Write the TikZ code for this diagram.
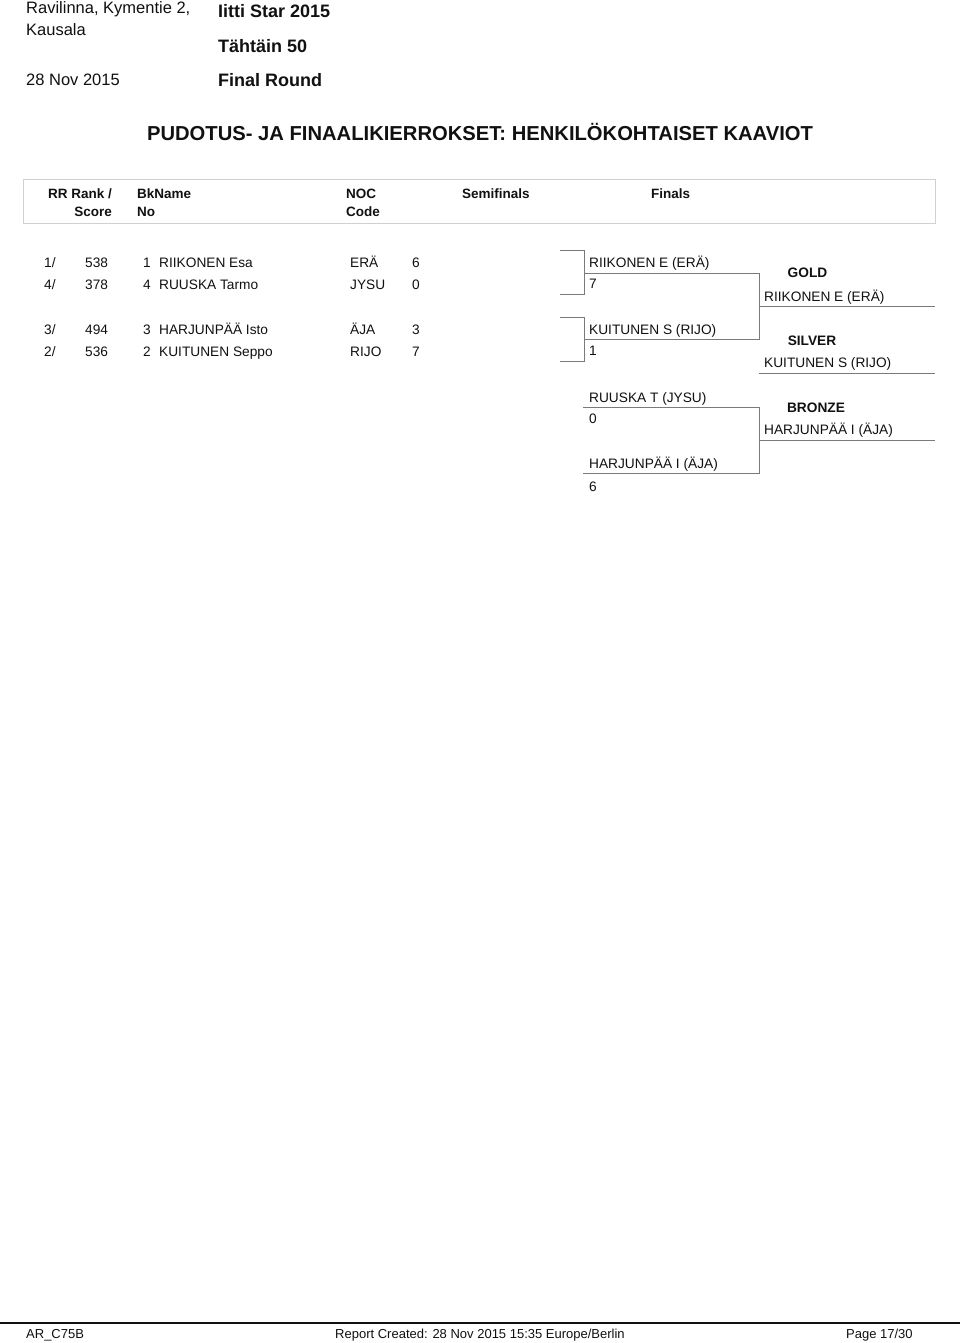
\documentclass[tikz,border=0pt]{standalone}
\usepackage{fontspec}
\setmainfont{Liberation Sans}
\definecolor{brkgray}{HTML}{7A7A7A}
\definecolor{boxgray}{HTML}{D0D0D0}
\definecolor{ink}{HTML}{111111}
\begin{document}
\begin{tikzpicture}[x=1pt,y=-1pt,
  txt/.style={anchor=base west,inner sep=0pt,text=ink,font=\fontsize{13.7}{16}\selectfont},
  txtr/.style={txt,anchor=base east},
  hdr/.style={anchor=base west,inner sep=0pt,text=ink,font=\bfseries\fontsize{13.5}{16}\selectfont},
  hdrr/.style={hdr,anchor=base east},
  medal/.style={anchor=base,inner sep=0pt,text=ink,font=\bfseries\fontsize{13.7}{16}\selectfont},
  topr/.style={anchor=base west,inner sep=0pt,text=ink,font=\fontsize{16.5}{19}\selectfont},
  topb/.style={anchor=base west,inner sep=0pt,text=ink,font=\bfseries\fontsize{18}{21}\selectfont},
  foot/.style={anchor=base west,inner sep=0pt,text=ink,font=\fontsize{13}{15}\selectfont},
  brk/.style={draw=brkgray,line width=0.9pt},
  hbox/.style={draw=boxgray,line width=1pt}]
\useasboundingbox (0,0) rectangle (960,1343);
\fill[white] (0,0) rectangle (960,1343);

% top block
\node[topr] (venue1) at (26,14) {Ravilinna, Kymentie 2,};
\node[topr] (venue2) at (26,35.5) {Kausala};
\node[topr] (date) at (26,86) {28 Nov 2015};
\node[topb] (event) at (218,17.5) {Iitti Star 2015};
\node[topb] (target) at (218,53) {Tähtäin 50};
\node[topb] (round) at (218,87) {Final Round};

% title
\node[anchor=base,inner sep=0pt,text=ink,font=\bfseries\fontsize{20.2}{24}\selectfont] (title) at (480,141) {PUDOTUS- JA FINAALIKIERROKSET: HENKILÖKOHTAISET KAAVIOT};

% header box
\draw[hbox] (23,180) rectangle (935,223);
\node[hdrr] (h1) at (112,198) {RR Rank /};
\node[hdrr] (h1b) at (112,216) {Score};
\node[hdr] (h2) at (137,198) {BkName};
\node[hdr] (h2b) at (137,216) {No};
\node[hdr] (h3) at (346,198) {NOC};
\node[hdr] (h3b) at (346,216) {Code};
\node[hdr] (h4) at (462,198) {Semifinals};
\node[hdr] (h5) at (651,198) {Finals};

% rows
\foreach \y/\rk/\sc/\no/\nm/\noc/\pt/\id in {267/1/538/1/RIIKONEN Esa/ERÄ/6/a,289.5/4/378/4/RUUSKA Tarmo/JYSU/0/b,334/3/494/3/HARJUNPÄÄ Isto/ÄJA/3/c,356.5/2/536/2/KUITUNEN Seppo/RIJO/7/d}{
  \node[txt] (rk\id) at (44,\y) {\rk/};
  \node[txt] (sc\id) at (85,\y) {\sc};
  \node[txt] (no\id) at (143,\y) {\no};
  \node[txt] (nm\id) at (159,\y) {\nm};
  \node[txt] (noc\id) at (350,\y) {\noc};
  \node[txt] (pt\id) at (412,\y) {\pt};
}

% semifinal brackets
\coordinate (s1t) at (560,250); \coordinate (s1tc) at (584,250);
\coordinate (s1b) at (560,294.5); \coordinate (s1bc) at (584,294.5);
\coordinate (s1m) at (584,273); \coordinate (s1e) at (759,273);
\draw[brk] (s1t) -- (s1tc) -- (s1bc) -- (s1b);
\draw[brk] (s1m) -- (s1e);
\coordinate (s2t) at (560,317); \coordinate (s2tc) at (584,317);
\coordinate (s2b) at (560,361.5); \coordinate (s2bc) at (584,361.5);
\coordinate (s2m) at (584,339.5); \coordinate (s2e) at (759,339.5);
\draw[brk] (s2t) -- (s2tc) -- (s2bc) -- (s2b);
\draw[brk] (s2m) -- (s2e);
\draw[brk] (s1e) -- (s2e);

\node[txt] (sf1n) at (589,267) {RIIKONEN E (ERÄ)};
\node[txt] (sf1s) at (589,288.5) {7};
\node[txt] (sf2n) at (589,334.5) {KUITUNEN S (RIJO)};
\node[txt] (sf2s) at (589,355.5) {1};

% gold / silver
\coordinate (gl) at (759,306); \coordinate (gr) at (935,306);
\draw[brk] (gl) -- (gr);
\coordinate (sl) at (759,373); \coordinate (sr) at (935,373);
\draw[brk] (sl) -- (sr);
\node[medal] (gold) at (807.5,277.5) {GOLD};
\node[txt] (goldn) at (764,301) {RIIKONEN E (ERÄ)};
\node[medal] (silver) at (812,345) {SILVER};
\node[txt] (silvern) at (764,367.5) {KUITUNEN S (RIJO)};

% bronze bracket
\coordinate (b1) at (583,407); \coordinate (b1e) at (759,407);
\coordinate (b2) at (583,473); \coordinate (b2e) at (759,473);
\draw[brk] (b1) -- (b1e) -- (b2e) -- (b2);
\coordinate (bl) at (759,440); \coordinate (br) at (935,440);
\draw[brk] (bl) -- (br);
\node[txt] (bz1n) at (589,402.5) {RUUSKA T (JYSU)};
\node[txt] (bz1s) at (589,423.5) {0};
\node[txt] (bz2n) at (589,468) {HARJUNPÄÄ I (ÄJA)};
\node[txt] (bz2s) at (589,491) {6};
\node[medal] (bronze) at (816,412.5) {BRONZE};
\node[txt] (bronzen) at (764,434.5) {HARJUNPÄÄ I (ÄJA)};

% footer
\coordinate (fl) at (0,1323); \coordinate (fr) at (960,1323);
\draw[draw=ink,line width=1.6pt] (fl) -- (fr);
\node[foot] (code) at (26,1338) {AR\_C75B};
\node[foot,anchor=base] (created) at (480,1338) {Report Created: 28 Nov 2015 15:35 Europe/Berlin};
\node[foot] (page) at (846,1338) {Page 17/30};
\end{tikzpicture}
\end{document}
